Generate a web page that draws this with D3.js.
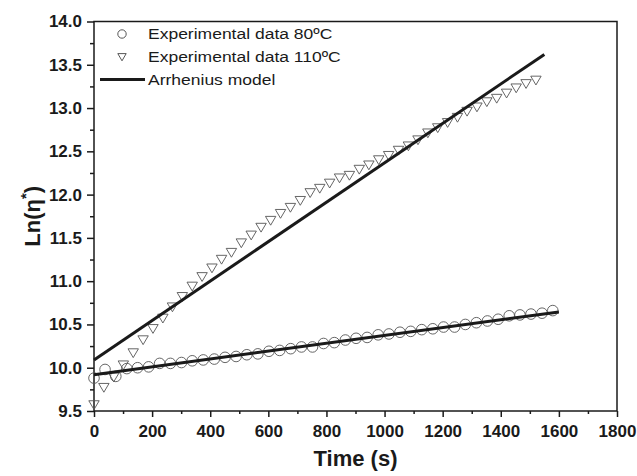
<!DOCTYPE html>
<html lang="en">
<head>
    <meta charset="UTF-8" />
    <title>Arrhenius model</title>
    <script src="https://d3js.org/d3.v7.min.js"></script>
    <style>
        body { margin: 0; background: #fff; }
        text { font-family: "Liberation Sans", Arial, sans-serif; fill: #1a1a1a; }
    </style>
</head>
<body>
    <script>
        // 80 C data
        var time80 = [0, 38, 75, 113, 150, 188, 226, 263, 301, 338, 376, 414, 451, 489, 526, 564, 602, 639, 677, 714,
            752, 790, 827, 865, 902, 940, 978, 1015, 1053, 1090, 1128, 1166, 1203, 1241, 1278, 1316, 1354, 1391, 1429, 1466,
            1504, 1542, 1579];
        var ln80 = [9.88, 9.98, 9.90, 9.99, 10.00, 10.01, 10.05, 10.05, 10.06, 10.08, 10.09, 10.10, 10.12, 10.13, 10.15, 10.16, 10.19, 10.20, 10.22, 10.24,
            10.24, 10.28, 10.29, 10.32, 10.34, 10.35, 10.38, 10.39, 10.41, 10.42, 10.44, 10.45, 10.47, 10.47, 10.50, 10.52, 10.54, 10.56, 10.60, 10.61,
            10.62, 10.63, 10.66];

        // 110 C data
        var time110 = [0, 34, 68, 101, 135, 169, 203, 237, 270, 304, 338, 372, 406, 439, 473, 507, 541, 575, 608, 642,
            676, 710, 744, 777, 811, 845, 879, 913, 946, 980, 1014, 1048, 1082, 1115, 1149, 1183, 1217, 1251, 1284, 1318,
            1352, 1386, 1420, 1453, 1487, 1521];
        var ln110 = [9.57, 9.77, 9.89, 10.03, 10.17, 10.32, 10.45, 10.57, 10.70, 10.82, 10.94, 11.05, 11.15, 11.25, 11.33, 11.44, 11.53, 11.62, 11.70, 11.78,
            11.85, 11.93, 12.02, 12.07, 12.13, 12.19, 12.22, 12.29, 12.34, 12.40, 12.45, 12.51, 12.56, 12.63, 12.71, 12.77, 12.83, 12.89, 12.96, 13.01,
            13.07, 13.11, 13.17, 13.23, 13.28, 13.32];

        // Arrhenius model lines (end points)
        var model80Time = [0, 1600];
        var model80Ln = [9.92, 10.645];
        var model110Time = [0, 1550];
        var model110Ln = [10.09, 13.62];

        var xTicks = [0, 200, 400, 600, 800, 1000, 1200, 1400, 1600, 1800];
        var yTicks = [9.5, 10.0, 10.5, 11.0, 11.5, 12.0, 12.5, 13.0, 13.5, 14.0];
        var legendLabels = ["Experimental data 80\u00BAC", "Experimental data 110\u00BAC", "Arrhenius model"];

        var w = 637;
        var h = 476;
        var margin = {top: 21.5, right: 20, bottom: 65, left: 94};

        var svg = d3.select("body")
            .append("svg")
            .attr("width", w)
            .attr("height", h);

        var xScale = d3.scaleLinear()
            .domain([0, 1800])
            .range([margin.left, w - margin.right]);

        var yScale = d3.scaleLinear()
            .domain([9.5, 14])
            .range([h - margin.bottom, margin.top]);

        // minor ticks
        var xMinor = d3.range(100, 1800, 200);
        var yMinor = d3.range(9.75, 14, 0.5);

        var xAxisMinor = d3.axisBottom(xScale).tickValues(xMinor).tickSize(3).tickFormat("");
        var yAxisMinor = d3.axisLeft(yScale).tickValues(yMinor).tickSize(4).tickFormat("");

        var xAxis = d3.axisBottom(xScale)
            .tickValues(xTicks)
            .tickSize(6)
            .tickPadding(8)
            .tickFormat(d3.format("d"));

        var yAxis = d3.axisLeft(yScale)
            .tickValues(yTicks)
            .tickSize(7)
            .tickPadding(5)
            .tickFormat(d3.format(".1f"));

        function styleAxis(g) {
            g.select(".domain").remove();
            g.selectAll("line").attr("stroke", "#1a1a1a").attr("stroke-width", 1.5);
            g.selectAll("text")
                .attr("font-size", 17)
                .attr("font-weight", "bold")
                .attr("fill", "#1a1a1a");
        }

        svg.append("g")
            .attr("transform", "translate(0," + (h - margin.bottom) + ")")
            .call(xAxisMinor).call(styleAxis);
        svg.append("g")
            .attr("transform", "translate(" + margin.left + ",0)")
            .call(yAxisMinor).call(styleAxis);
        svg.append("g")
            .attr("transform", "translate(0," + (h - margin.bottom) + ")")
            .call(xAxis).call(styleAxis);
        svg.append("g")
            .attr("transform", "translate(" + margin.left + ",0)")
            .call(yAxis).call(styleAxis);

        // frame
        svg.append("rect")
            .attr("x", margin.left)
            .attr("y", margin.top)
            .attr("width", w - margin.left - margin.right)
            .attr("height", h - margin.top - margin.bottom)
            .attr("fill", "none")
            .attr("stroke", "#1a1a1a")
            .attr("stroke-width", 1.5);

        // axis titles
        svg.append("text")
            .attr("x", (margin.left + w - margin.right) / 2)
            .attr("y", 466)
            .attr("text-anchor", "middle")
            .attr("font-size", 22)
            .attr("font-weight", "bold")
            .text("Time (s)");

        var yTitle = svg.append("text")
            .attr("transform", "translate(40," + ((margin.top + h - margin.bottom) / 2) + ") rotate(-90)")
            .attr("text-anchor", "middle")
            .attr("font-size", 22)
            .attr("font-weight", "bold");
        yTitle.append("tspan").text("Ln(\u03B7");
        yTitle.append("tspan").attr("dy", -9).attr("font-size", 15).text("*");
        yTitle.append("tspan").attr("dy", 9).text(")");

        var plot = svg.append("g");

        var triPath = "M-5.2,-4.2L5.2,-4.2L0,4.6Z";

        // 80 C circles
        var data80 = time80.map(function(t, i) { return {t: t, v: ln80[i]}; });
        plot.selectAll("circle.d80")
            .data(data80)
            .enter()
            .append("circle")
            .attr("class", "d80")
            .attr("cx", function(d) { return xScale(d.t); })
            .attr("cy", function(d) { return yScale(d.v); })
            .attr("r", 5.3)
            .attr("fill", "none")
            .attr("stroke", "#555")
            .attr("stroke-width", 0.9);

        // 110 C triangles
        var data110 = time110.map(function(t, i) { return {t: t, v: ln110[i]}; });
        plot.selectAll("path.d110")
            .data(data110)
            .enter()
            .append("path")
            .attr("class", "d110")
            .attr("d", triPath)
            .attr("transform", function(d) {
                return "translate(" + xScale(d.t) + "," + yScale(d.v) + ")";
            })
            .attr("fill", "none")
            .attr("stroke", "#555")
            .attr("stroke-width", 0.9);

        // model lines
        var line = d3.line()
            .x(function(d) { return xScale(d[0]); })
            .y(function(d) { return yScale(d[1]); });

        [[model80Time, model80Ln], [model110Time, model110Ln]].forEach(function(m) {
            plot.append("path")
                .datum(m[0].map(function(t, i) { return [t, m[1][i]]; }))
                .attr("d", line)
                .attr("fill", "none")
                .attr("stroke", "#1a1a1a")
                .attr("stroke-width", 3);
        });

        // legend
        var legend = svg.append("g");
        var rowY = [34, 57, 79.5];

        legend.append("circle")
            .attr("cx", 122).attr("cy", rowY[0]).attr("r", 4.2)
            .attr("fill", "none").attr("stroke", "#444").attr("stroke-width", 0.9);
        legend.append("path")
            .attr("d", "M-4.2,-3.4L4.2,-3.4L0,3.8Z")
            .attr("transform", "translate(122," + rowY[1] + ")")
            .attr("fill", "none").attr("stroke", "#444").attr("stroke-width", 0.9);
        legend.append("line")
            .attr("x1", 100).attr("x2", 145)
            .attr("y1", rowY[2]).attr("y2", rowY[2])
            .attr("stroke", "#1a1a1a").attr("stroke-width", 3);

        // legend text is a bit stretched sideways in the original
        legend.selectAll("text")
            .data(legendLabels)
            .enter()
            .append("text")
            .attr("transform", function(d, i) {
                return "translate(148," + (rowY[i] + 5) + ") scale(1.13,1)";
            })
            .attr("font-size", 15.5)
            .text(function(d) { return d; });
    </script>
</body>
</html>
